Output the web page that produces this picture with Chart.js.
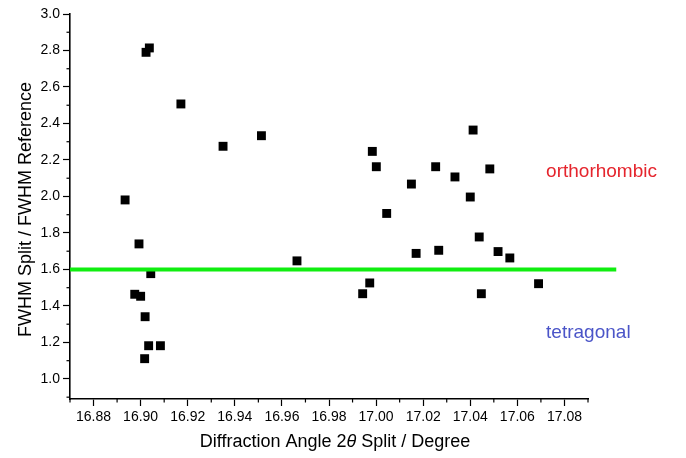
<!DOCTYPE html>
<html>
<head>
<meta charset="utf-8">
<script src="https://cdn.jsdelivr.net/npm/chart.js@4"></script>
<style>
  html, body { margin: 0; padding: 0; background: #fff; }
  #wrap { width: 686px; height: 458px; }
</style>
</head>
<body>
<div id="wrap"><canvas id="chart" width="686" height="458"></canvas></div>
<script>
// Valeurs
const xSplit = [
  16.8934, 16.9037, 16.9023, 16.9171, 16.9350, 16.9513, 16.8993, 16.9043,
  16.8975, 16.9000, 16.9019, 16.9034, 16.9084, 16.9017, 16.9664,
  17.0412, 16.9984, 17.0001, 17.0253, 17.0483, 17.0335, 17.0150, 17.0400,
  17.0045, 17.0438, 17.0170, 17.0266, 17.0518, 17.0568, 16.9973, 16.9943,
  17.0447, 17.0690
];
const fwhmRatio = [
  1.981, 2.814, 2.790, 2.507, 2.275, 2.333, 1.740, 1.577,
  1.464, 1.453, 1.341, 1.182, 1.182, 1.111, 1.647,
  2.364, 2.247, 2.163, 2.163, 2.151, 2.107, 2.068, 1.997,
  1.907, 1.778, 1.688, 1.705, 1.698, 1.663, 1.526, 1.467,
  1.467, 1.522
];
const boundaryX = [16.87, 17.102];
const boundaryY = [1.6, 1.6];
const xTicks = [16.88, 16.90, 16.92, 16.94, 16.96, 16.98, 17.00, 17.02, 17.04, 17.06, 17.08];
const yTicks = [1.0, 1.2, 1.4, 1.6, 1.8, 2.0, 2.2, 2.4, 2.6, 2.8, 3.0];
const phaseNames = ['orthorhombic', 'tetragonal'];
const phaseColors = ['#e5252d', '#4b55c8'];
const phaseAnchors = [[17.0722, 2.107], [17.0722, 1.225]];

const FONT = '"Liberation Sans", Arial, sans-serif';

// Petits traits de graduation + titres + étiquettes
const decorPlugin = {
  id: 'decor',
  afterDraw(chart) {
    const ctx = chart.ctx;
    const xs = chart.scales.x, ys = chart.scales.y;
    const area = chart.chartArea;
    ctx.save();
    ctx.strokeStyle = '#000';
    ctx.lineWidth = 1.2;
    // graduations mineures
    for (let i = 0; i <= xTicks.length; i++) {
      const v = (i === 0 ? xTicks[0] - 0.01 : xTicks[i - 1] + 0.01);
      const px = xs.getPixelForValue(v);
      ctx.beginPath();
      ctx.moveTo(px, area.bottom);
      ctx.lineTo(px, area.bottom + 3.5);
      ctx.stroke();
    }
    for (let i = 0; i <= yTicks.length; i++) {
      const v = (i === 0 ? yTicks[0] - 0.1 : yTicks[i - 1] + 0.1);
      if (v > 3.0001) continue;
      const py = ys.getPixelForValue(v);
      ctx.beginPath();
      ctx.moveTo(area.left, py);
      ctx.lineTo(area.left - 3.5, py);
      ctx.stroke();
    }

    // titre de l'axe x avec thêta en italique
    ctx.fillStyle = '#000';
    ctx.textBaseline = 'middle';
    const normal = '18px ' + FONT, italic = 'italic 18px ' + FONT;
    const parts = [['Diffraction Angle 2', normal], ['\u03B8', italic], [' Split / Degree', normal]];
    let total = 0;
    parts.forEach(p => { ctx.font = p[1]; total += ctx.measureText(p[0]).width; });
    let x = (area.left + area.right) / 2 + 6 - total / 2;
    const y = area.bottom + 43;
    ctx.textAlign = 'left';
    parts.forEach(p => { ctx.font = p[1]; ctx.fillText(p[0], x, y); x += ctx.measureText(p[0]).width; });

    // titre de l'axe y
    ctx.save();
    ctx.translate(26, (area.top + area.bottom) / 2 + 3);
    ctx.rotate(-Math.PI / 2);
    ctx.textAlign = 'center';
    ctx.font = normal;
    ctx.fillText('FWHM Split / FWHM Reference', 0, 0);
    ctx.restore();

    // étiquettes des phases
    ctx.font = '19px ' + FONT;
    ctx.textAlign = 'left';
    ctx.textBaseline = 'alphabetic';
    phaseNames.forEach((name, i) => {
      ctx.fillStyle = phaseColors[i];
      ctx.fillText(name, xs.getPixelForValue(phaseAnchors[i][0]), ys.getPixelForValue(phaseAnchors[i][1]));
    });
    ctx.restore();
  }
};

new Chart(document.getElementById('chart'), {
  type: 'scatter',
  data: {
    datasets: [
      {
        type: 'line',
        data: boundaryX.map((v, i) => ({ x: v, y: boundaryY[i] })),
        borderColor: '#10ee10',
        borderWidth: 4,
        pointRadius: 0,
        clip: false
      },
      {
        data: xSplit.map((v, i) => ({ x: v, y: fwhmRatio[i] })),
        pointStyle: 'rect',
        pointRadius: 6.3,
        backgroundColor: '#000',
        borderWidth: 0
      }
    ]
  },
  options: {
    responsive: false,
    animation: false,
    events: [],
    layout: { padding: { left: 0, top: 14, right: 98, bottom: 0 } },
    plugins: {
      legend: { display: false },
      tooltip: { enabled: false }
    },
    scales: {
      x: {
        type: 'linear',
        min: 16.87,
        max: 17.09,
        afterBuildTicks: s => { s.ticks = xTicks.map(v => ({ value: v })); },
        afterFit: s => { s.height = 59; s.paddingLeft = 0; s.paddingRight = 0; },
        ticks: {
          color: '#000',
          font: { family: FONT, size: 14 },
          padding: 3,
          maxRotation: 0,
          autoSkip: false,
          callback: v => v.toFixed(2)
        },
        grid: { drawOnChartArea: false, tickLength: 7, tickColor: '#000', tickWidth: 1.2 },
        border: { color: '#000', width: 1.6 }
      },
      y: {
        min: 0.89,
        max: 3.0,
        afterBuildTicks: s => { s.ticks = yTicks.map(v => ({ value: v })); },
        afterFit: s => { s.width = 70; s.paddingTop = 0; s.paddingBottom = 0; },
        ticks: {
          color: '#000',
          font: { family: FONT, size: 14 },
          padding: 3,
          autoSkip: false,
          callback: v => v.toFixed(1)
        },
        grid: { drawOnChartArea: false, tickLength: 7, tickColor: '#000', tickWidth: 1.2 },
        border: { color: '#000', width: 1.6 }
      }
    }
  },
  plugins: [decorPlugin]
});
</script>
</body>
</html>
